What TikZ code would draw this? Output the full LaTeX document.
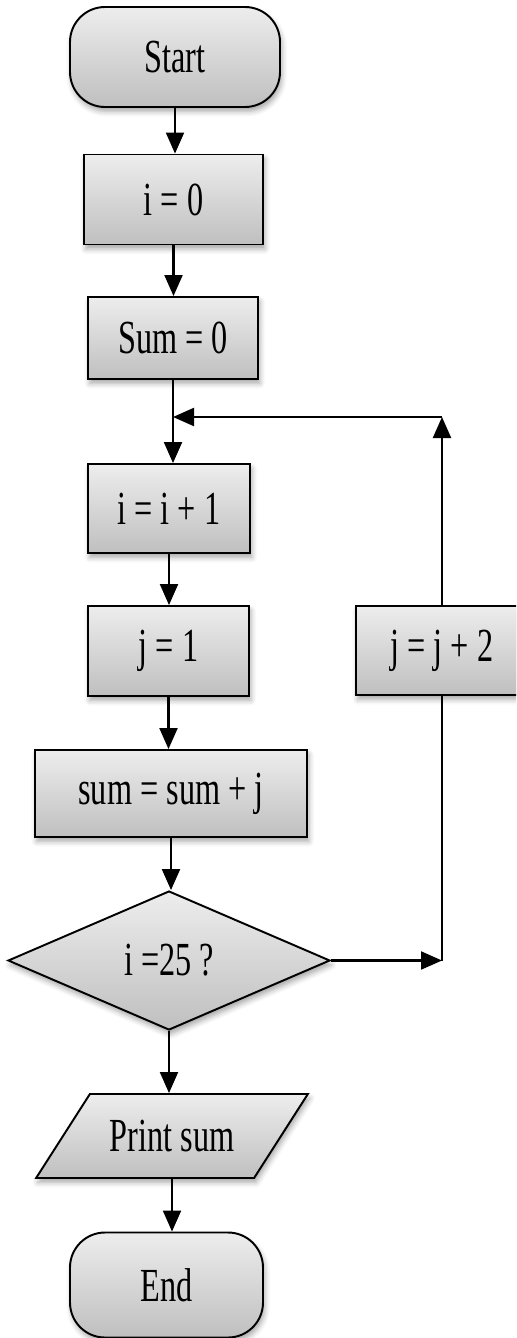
\documentclass[tikz,border=0pt]{standalone}
\usepackage{fontspec}
\setmainfont{Liberation Serif}[FakeStretch=0.68]
\usepackage{tikz}
\usetikzlibrary{arrows.meta,shapes.geometric,shadows.blur}

\begin{document}
\begin{tikzpicture}[
  font=\fontsize{27}{30}\selectfont,
  shadebox/.style={draw, line width=1.1pt, top color=gray!14, bottom color=gray!50,
    blur shadow={shadow xshift=1pt, shadow yshift=-2.5pt, shadow blur radius=3pt, shadow opacity=35}},
  proc/.style={shadebox, rectangle, inner sep=0pt},
  term/.style={shadebox, rectangle, rounded corners=0.7cm, inner sep=0pt},
  decide/.style={shadebox, diamond, aspect=2.3, inner sep=0pt},
  io/.style={shadebox, trapezium, trapezium left angle=38, trapezium right angle=142,
    trapezium stretches=true, inner sep=0pt},
  flow/.style={line width=1.2pt, -{Triangle[length=0.42cm,width=0.36cm]}},
  wire/.style={line width=1.2pt}
]
  \useasboundingbox (0,0) rectangle (10.32,-26.76);
  \clip (0,0) rectangle (10.32,-26.76);

  % Main column
  \node[term, minimum width=4.2cm, minimum height=2.0cm] (start) at (3.50,-1.14) {Start};
  \node[proc, minimum width=3.58cm, minimum height=1.80cm] (iinit) at (3.47,-3.99) {i = 0};
  \node[proc, minimum width=3.40cm, minimum height=1.64cm] (suminit) at (3.46,-6.76) {Sum = 0};
  \node[proc, minimum width=3.24cm, minimum height=1.78cm] (iinc) at (3.38,-10.17) {i = i + 1};
  \node[proc, minimum width=3.22cm, minimum height=1.80cm] (jinit) at (3.37,-13.02) {j = 1};
  \node[proc, minimum width=5.44cm, minimum height=1.74cm] (acc) at (3.42,-15.87) {sum = sum + j};
  \node[decide, minimum width=6.44cm, minimum height=2.78cm] (test) at (3.38,-19.21) {i =25 ?};
  \node[io, minimum width=5.44cm, minimum height=1.68cm] (out) at (3.44,-22.72) {Print sum};
  \node[term, minimum width=3.86cm, minimum height=2.10cm] (finish) at (3.33,-25.70) {End};

  % Side branch
  \node[proc, minimum width=3.44cm, minimum height=1.78cm] (jinc) at (8.84,-13.01) {j = j + 2};
  \coordinate (back) at (0,-8.34);

  % Straight down
  \draw[flow] (start.south) -- (start.south |- iinit.north);
  \draw[flow] (iinit.south) -- (iinit.south |- suminit.north);
  \draw[flow] (suminit.south) -- (suminit.south |- iinc.north);
  \draw[flow] (iinc.south) -- (iinc.south |- jinit.north);
  \draw[flow] (jinit.south) -- (jinit.south |- acc.north);
  \draw[flow] (acc.south) -- (acc.south |- test.north);
  \draw[flow] (test.south) -- (test.south |- out.north);
  \draw[flow] (out.south) -- (out.south |- finish.north);

  % Loop back
  \draw[flow] (test.east) -- (test.east -| jinc);
  \draw[wire] (test.east -| jinc) -- (jinc.south);
  \draw[flow] (jinc.north) -- (jinc |- back);
  \draw[flow] (jinc |- back) -- (suminit.south |- back);
\end{tikzpicture}
\end{document}
